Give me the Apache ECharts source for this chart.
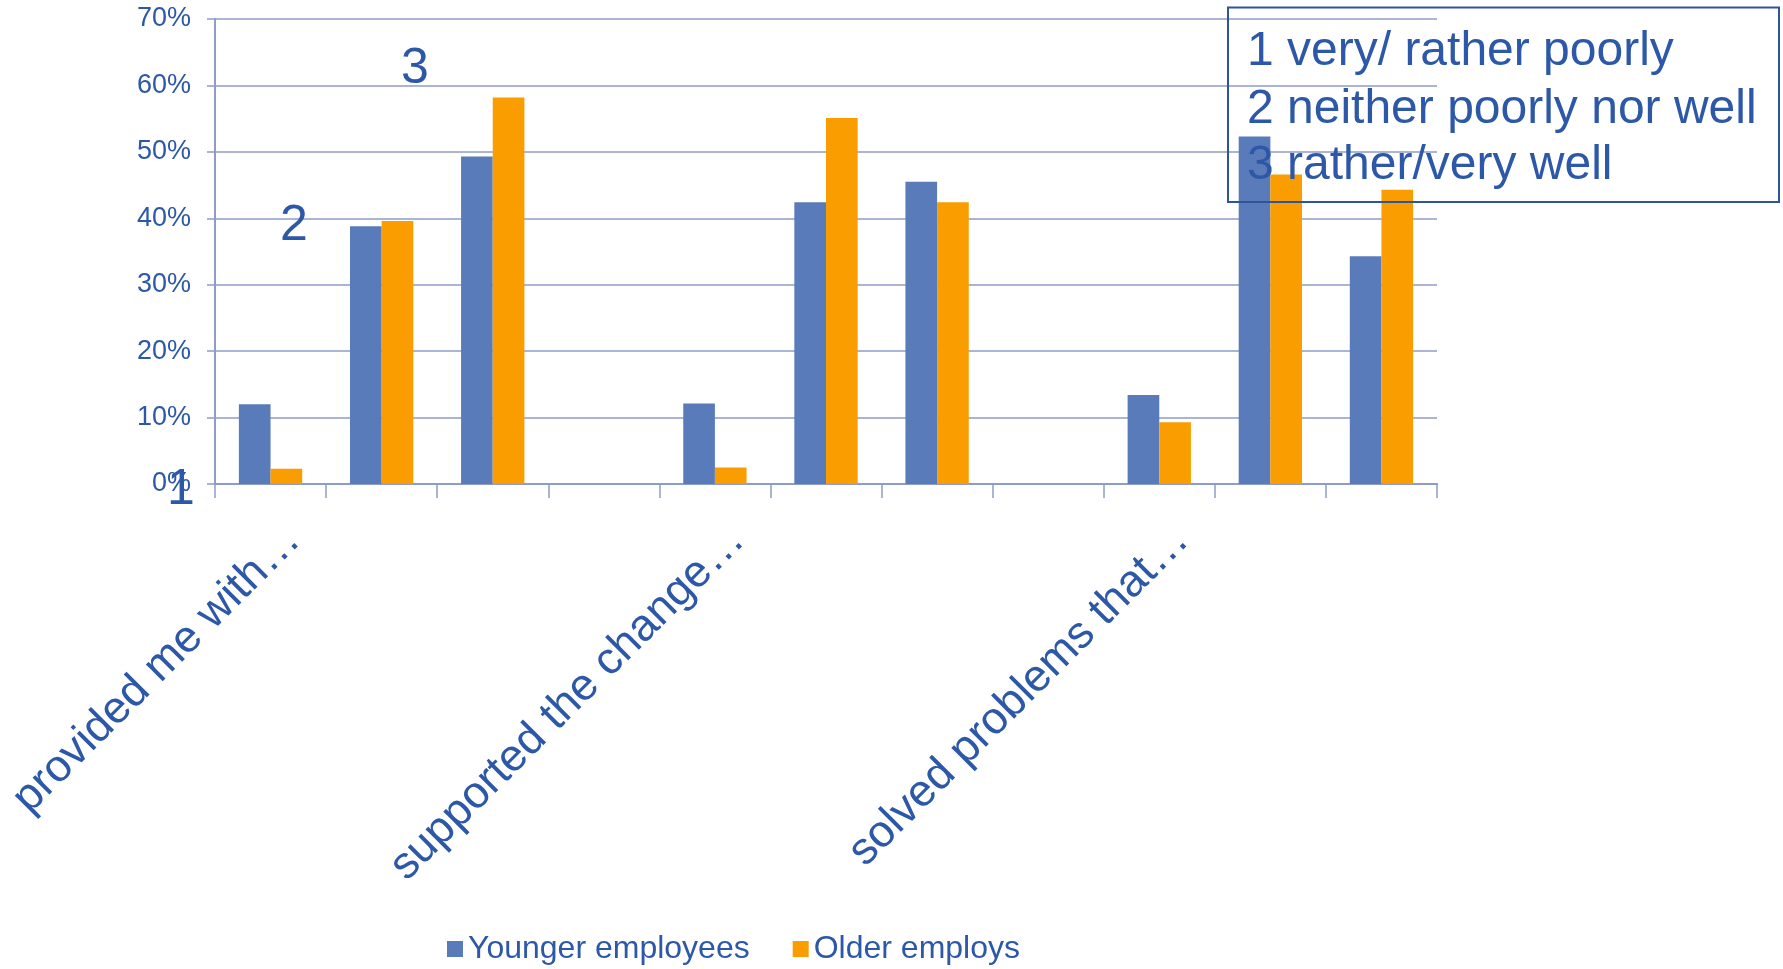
<!DOCTYPE html>
<html><head><meta charset="utf-8">
<script src="https://cdn.jsdelivr.net/npm/echarts@6/dist/echarts.min.js"></script>
<style>html,body{margin:0;padding:0;background:#fff}#c{width:1783px;height:969px}</style>
</head><body><div id="c"></div>
<script>
// ---- data ----
const categories = ['provided me with…', '', '', '', 'supported the change…', '', '', '', 'solved problems that…', '', ''];
const younger = [12.0, 38.8, 49.3, null, 12.1, 42.4, 45.5, null, 13.4, 52.3, 34.3];
const older   = [2.3, 39.6, 58.2, null, 2.5, 55.1, 42.4, null, 9.3, 46.6, 44.3];
const seriesNames = ['Younger employees', 'Older employs'];
const yTickValues = [0, 10, 20, 30, 40, 50, 60, 70];
const scaleNotes = ['1 very/ rather poorly', '2 neither poorly nor well', '3 rather/very well'];
const groupMarks = ['1', '2', '3'];

// ---- style ----
const FONT = "'Liberation Sans', Arial, sans-serif";
const TXT = '#2D58A8';
const GRID = '#8E9CC8';
const BLUE = '#5A7BBA';
const ORANGE = '#F99D00';

const chart = echarts.init(document.getElementById('c'), null, {renderer: 'canvas'});

const markPos = [[181, 490], [294, 226], [415, 69]];
const noteY = [51.5, 109.5, 165.5];

const option = {
  animation: false,
  backgroundColor: '#ffffff',
  textStyle: {fontFamily: FONT},
  grid: {left: 215, right: 346, top: 19, bottom: 485, containLabel: false, outerBoundsMode: 'none'},
  legend: {
    data: seriesNames,
    left: 442, top: 928,
    icon: 'rect', itemWidth: 16, itemHeight: 16, itemGap: 43,
    textStyle: {fontFamily: FONT, fontSize: 32, color: TXT}
  },
  xAxis: {
    type: 'category',
    data: categories,
    boundaryGap: true,
    axisLine: {show: true, lineStyle: {color: GRID, width: 2}},
    axisTick: {show: true, length: 14, inside: false, lineStyle: {color: GRID, width: 1.5}, interval: 0},
    axisLabel: {
      interval: 0, rotate: 45, margin: 72,
      padding: [0, -32, 0, 0],
      fontFamily: FONT, fontSize: 45, color: TXT
    },
    splitLine: {show: false}
  },
  yAxis: {
    type: 'value',
    min: yTickValues[0], max: yTickValues[yTickValues.length - 1], interval: 10,
    axisLine: {show: true, lineStyle: {color: GRID, width: 2}},
    axisTick: {show: true, length: 8, lineStyle: {color: GRID, width: 1.5}},
    axisLabel: {formatter: '{value}%', margin: 24, fontFamily: FONT, fontSize: 27, color: TXT},
    splitLine: {show: true, lineStyle: {color: GRID, width: 1.5}}
  },
  series: [
    {name: seriesNames[0], type: 'bar', data: younger, barGap: '0%', barCategoryGap: '43%',
     itemStyle: {color: BLUE}},
    {name: seriesNames[1], type: 'bar', data: older, barGap: '0%', barCategoryGap: '43%',
     itemStyle: {color: ORANGE}}
  ],
  graphic: [
    {type: 'rect', z: 100, shape: {x: 1228, y: 7.5, width: 551, height: 194.5},
     style: {fill: 'none', stroke: '#2F5597', lineWidth: 2}}
  ].concat(scaleNotes.map((t, i) => ({
    type: 'text', z: 100, x: 1247, y: noteY[i],
    style: {text: t, fill: TXT, font: '48px ' + FONT, textAlign: 'left', textVerticalAlign: 'middle'}
  }))).concat(groupMarks.map((t, i) => ({
    type: 'text', z: 100, x: markPos[i][0], y: markPos[i][1],
    style: {text: t, fill: TXT, font: '50px ' + FONT, textAlign: 'center', textVerticalAlign: 'middle'}
  })))
};
chart.setOption(option);
</script>
</body></html>
